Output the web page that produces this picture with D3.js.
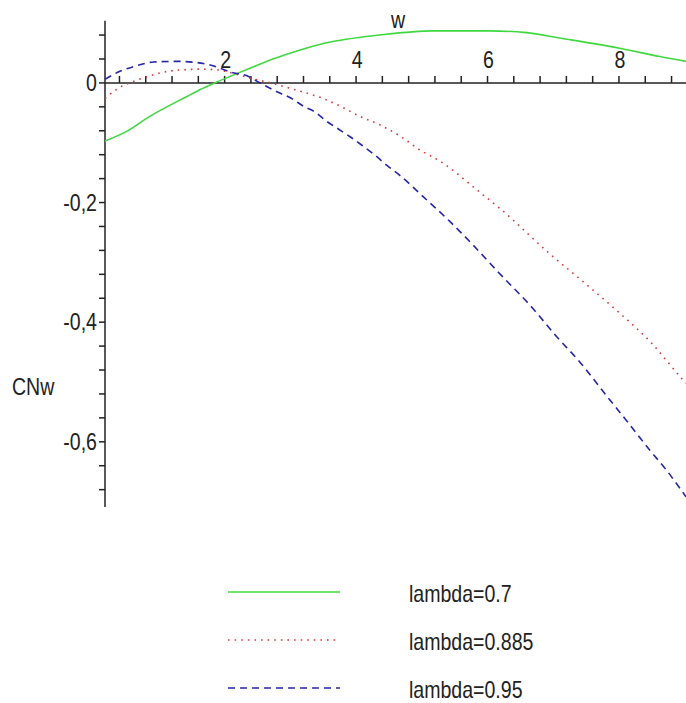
<!DOCTYPE html>
<html>
<head>
<meta charset="utf-8">
<script src="https://cdn.jsdelivr.net/npm/d3@7"></script>
<style>
	body { margin: 0; background: #fff; }
	svg text { font-family: "Liberation Sans Narrow", "Arial Narrow", "Liberation Sans", sans-serif; fill: #222; }
</style>
</head>
<body>
<div id="chart"></div>
<script>
// values (w, CNw)
var w_green = [0.18, 0.51, 0.86, 1.12, 1.42, 1.63, 1.85, 2.13, 2.44, 2.79, 3.15, 3.55, 4.36, 5.17, 6.03, 6.59, 7.10, 8.01, 8.62, 9.02];
var cn_green = [-0.097, -0.081, -0.056, -0.040, -0.023, -0.011, 0.0, 0.013, 0.027, 0.042, 0.055, 0.067, 0.080, 0.087, 0.087, 0.084, 0.075, 0.058, 0.044, 0.036];

var w_red = [0.18, 0.31, 0.41, 0.51, 0.87, 1.12, 1.37, 1.63, 1.88, 2.13, 2.39, 2.70, 3.15, 3.45, 3.76, 4.06, 4.36, 4.67, 4.97, 5.28, 5.93, 6.19, 6.94, 7.45, 7.96, 8.47, 8.97, 9.02];
var cn_red = [-0.026, -0.0145, -0.007, -0.002, 0.012, 0.019, 0.022, 0.023, 0.022, 0.016, 0.008, 0.0, -0.014, -0.024, -0.039, -0.056, -0.070, -0.089, -0.112, -0.131, -0.187, -0.210, -0.285, -0.332, -0.380, -0.432, -0.496, -0.502];

var w_blue = [0.18, 0.44, 0.61, 0.92, 1.27, 1.58, 1.78, 2.13, 2.34, 2.49, 2.64, 2.84, 3.02, 3.20, 3.38, 3.55, 3.73, 3.91, 4.11, 4.29, 4.47, 4.67, 5.02, 5.43, 5.78, 6.16, 6.69, 7.05, 7.40, 7.76, 8.11, 8.47, 8.72, 9.02];
var cn_blue = [0.006, 0.021, 0.027, 0.035, 0.036, 0.034, 0.030, 0.017, 0.012, 0.003, -0.006, -0.017, -0.026, -0.039, -0.049, -0.064, -0.077, -0.090, -0.106, -0.121, -0.138, -0.155, -0.190, -0.232, -0.271, -0.316, -0.377, -0.424, -0.466, -0.516, -0.564, -0.614, -0.647, -0.692];

var legendLabels = ["lambda=0.7", "lambda=0.885", "lambda=0.95"];
var xTickLabels = [2, 4, 6, 8];
var yTickLabels = [0, -0.2, -0.4, -0.6];

const width = 686;
const height = 703;
const axis_color = "#222";
const text_squeeze = 0.85;

var series = [
	{ w: w_green, cn: cn_green, color: "#3fd83f", dash: null, width: 1.6 },
	{ w: w_red, cn: cn_red, color: "#d83a3a", dash: "1.6,5", width: 1.6 },
	{ w: w_blue, cn: cn_blue, color: "#2626a8", dash: "7,5", width: 1.6 }
];

var svg = d3.select("#chart").append("svg")
	.attr("width", width)
	.attr("height", height)
	.style("font-size", "23px");

var x = d3.scaleLinear().domain([0.18, 9.02]).range([105, 686]);
var y = d3.scaleLinear().domain([0.104, -0.709]).range([20.7, 507]);

// the original font is a condensed one, squeeze the text sideways
function place(sel, px, py) {
	return sel.attr("transform", (d, i) => `translate(${px(d, i)},${py(d, i)}) scale(${text_squeeze},1)`);
}

// minor ticks every 0.4 on w, every 0.04 on CNw
var xTicks = d3.range(0.4, 9.01, 0.4);
var yTicks = d3.range(-0.68, 0.1, 0.04);

var axes = svg.append("g")
	.attr("stroke", axis_color)
	.attr("stroke-width", 1.5);

axes.append("line")
	.attr("x1", x.range()[0]).attr("x2", x.range()[1])
	.attr("y1", y(0)).attr("y2", y(0));

axes.append("line")
	.attr("x1", x(0.18)).attr("x2", x(0.18))
	.attr("y1", y.range()[0]).attr("y2", y.range()[1]);

axes.selectAll(".xt")
	.data(xTicks)
	.join("line")
	.attr("class", "xt")
	.attr("x1", d => x(d)).attr("x2", d => x(d))
	.attr("y1", y(0)).attr("y2", y(0) - 7);

axes.selectAll(".yt")
	.data(yTicks)
	.join("line")
	.attr("class", "yt")
	.attr("x1", x(0.18)).attr("x2", x(0.18) - 6)
	.attr("y1", d => y(d)).attr("y2", d => y(d));

svg.selectAll(".xl")
	.data(xTickLabels)
	.join("text")
	.attr("class", "xl")
	.attr("text-anchor", "middle")
	.call(place, d => x(d) + 1, d => y(0) - 15)
	.text(d => d);

svg.selectAll(".yl")
	.data(yTickLabels)
	.join("text")
	.attr("class", "yl")
	.attr("dy", "0.35em")
	.attr("text-anchor", "end")
	.call(place, d => 97, d => y(d))
	.text(d => String(d).replace(".", ","));

svg.append("text")
	.attr("text-anchor", "middle")
	.call(place, () => 398, () => 28)
	.text("w");

svg.append("text")
	.attr("dy", "0.35em")
	.call(place, () => 12, () => 387)
	.text("CNw");

var line = d3.line()
	.x(d => x(d[0]))
	.y(d => y(d[1]))
	.curve(d3.curveMonotoneX);

svg.append("g")
	.attr("fill", "none")
	.selectAll("path")
	.data(series)
	.join("path")
	.attr("stroke", d => d.color)
	.attr("stroke-width", d => d.width)
	.attr("stroke-dasharray", d => d.dash)
	.attr("d", d => line(d3.zip(d.w, d.cn)));

// legend
const legendY = [592, 640, 688];
var legend = svg.append("g")
	.selectAll("g")
	.data(series)
	.join("g")
	.attr("transform", (d, i) => `translate(0,${legendY[i]})`);

legend.append("line")
	.attr("x1", 228).attr("x2", 340)
	.attr("stroke", d => d.color)
	.attr("stroke-width", d => d.width)
	.attr("stroke-dasharray", d => d.dash);

legend.append("text")
	.attr("dy", "0.35em")
	.call(place, () => 409, () => 2)
	.text((d, i) => legendLabels[i]);
</script>
</body>
</html>
